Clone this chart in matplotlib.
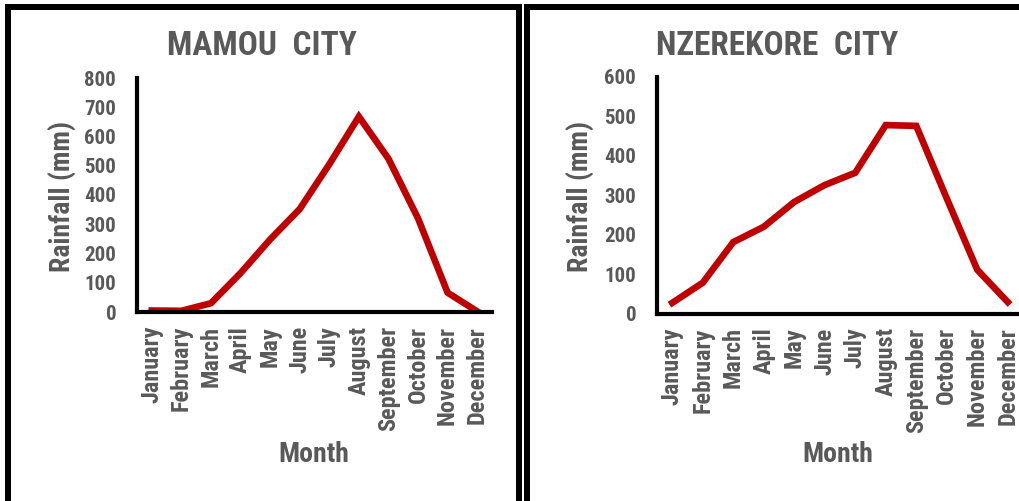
import matplotlib
matplotlib.use("Agg")
import matplotlib.pyplot as plt
from matplotlib import font_manager
from matplotlib.patches import Rectangle

months = ["January", "February", "March", "April", "May", "June", "July",
          "August", "September", "October", "November", "December"]
mamou_rain = [5, 4, 30, 133, 248, 352, 505, 668, 524, 320, 66, 2]
nzerekore_rain = [27, 78, 181, 220, 283, 326, 357, 478, 476, 292, 111, 29]
mamou_yticks = [0, 100, 200, 300, 400, 500, 600, 700, 800]
nzerekore_yticks = [0, 100, 200, 300, 400, 500, 600]

names = {f.name for f in font_manager.fontManager.ttflist}
family = "DejaVu Sans"
for cand in ["Liberation Sans Narrow", "Roboto Condensed", "Arial Narrow", "Liberation Sans"]:
    if cand in names:
        family = cand
        break
plt.rcParams["font.family"] = [family, "DejaVu Sans"]

W, H = 1019, 501
fig = plt.figure(figsize=(W / 100, H / 100), dpi=100)
GRAY = "#595959"
RED = "#C00000"

def fx(px):
    return px / W

def fy(py):
    return 1 - py / H

# panel frames
fig.patches.append(Rectangle((fx(8), fy(503)), fx(519) - fx(8), fy(7) - fy(503),
                             transform=fig.transFigure, fill=False, lw=4.3, ec="black"))
fig.patches.append(Rectangle((fx(526.5), fy(506)), fx(1040) - fx(526.5), fy(7) - fy(506),
                             transform=fig.transFigure, fill=False, lw=4.3, ec="black"))

def panel(x0, x1, y0, y1, values, yticks, title, tx, ylx, mx):
    ax = fig.add_axes([fx(x0), fy(y1), fx(x1) - fx(x0), fy(y0) - fy(y1)])
    ax.plot(range(len(months)), values, color=RED, lw=4.8, solid_joinstyle="miter")
    ax.set_xlim(-0.5, len(months) - 0.5)
    ax.set_ylim(yticks[0], yticks[-1])
    ax.set_yticks(yticks)
    ax.set_xticks(range(len(months)))
    ax.set_xticklabels(months, rotation=90, fontsize=17.5, fontweight="bold", color=GRAY)
    ax.set_yticklabels([str(v) for v in yticks], fontsize=15, fontweight="bold", color=GRAY)
    ax.tick_params(axis="both", length=0)
    ax.tick_params(axis="y", pad=15)
    ax.tick_params(axis="x", pad=10)
    for s in ["top", "right"]:
        ax.spines[s].set_visible(False)
    for s in ["left", "bottom"]:
        ax.spines[s].set_linewidth(3)
        ax.spines[s].set_color("black")
    ax.patch.set_alpha(0)
    fig.text(fx(tx), fy(46), title, ha="center", va="center", fontsize=24,
             fontweight="bold", color=GRAY)
    fig.text(fx(ylx), fy(196), "Rainfall (mm)", rotation=90, ha="center", va="center",
             fontsize=20, fontweight="bold", color=GRAY)
    fig.text(fx(mx), fy(455), "Month", ha="center", va="center", fontsize=20,
             fontweight="bold", color=GRAY)
    return ax

panel(137, 492, 78, 312, mamou_rain, mamou_yticks, "MAMOU  CITY", 262, 62, 314)
panel(657, 1023, 77, 313.5, nzerekore_rain, nzerekore_yticks, "NZEREKORE  CITY", 777, 580, 838)

fig.savefig("out.png", dpi=100)
